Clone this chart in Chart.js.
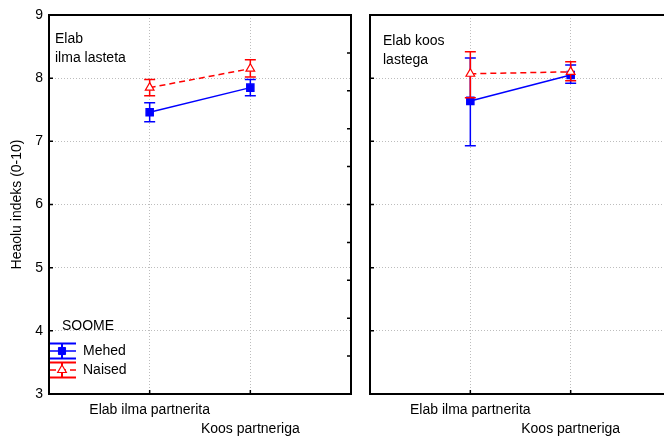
<!DOCTYPE html>
<html>
<head>
<meta charset="utf-8">
<script src="https://cdn.jsdelivr.net/npm/chart.js@4/dist/chart.umd.min.js"></script>
<style>
  html, body { margin: 0; padding: 0; background: #fff; overflow: hidden; }
  #wrap { position: relative; width: 664px; height: 437px; overflow: hidden; }
  canvas { position: absolute; top: 0; }
</style>
</head>
<body>
<div id="wrap">
  <canvas id="leftPanel" width="360" height="437" style="left:0"></canvas>
  <canvas id="rightPanel" width="320" height="437" style="left:360px"></canvas>
</div>
<script>
const categories = ['Elab ilma partnerita', 'Koos partneriga'];
const seriesNames = ['Mehed', 'Naised'];
const legendTitle = 'SOOME';
const yTitle = 'Heaolu indeks (0-10)';
const panelTitles = [['Elab', 'ilma lasteta'], ['Elab koos', 'lastega']];

// Elab ilma lasteta
const mehedLasteta = [7.46, 7.85];
const mehedLastetaLow = [7.31, 7.72];
const mehedLastetaHigh = [7.61, 7.98];
const naisedLasteta = [7.85, 8.15];
const naisedLastetaLow = [7.72, 8.02];
const naisedLastetaHigh = [7.98, 8.29];

// Elab koos lastega
const mehedLastega = [7.64, 8.05];
const mehedLastegaLow = [6.93, 7.92];
const mehedLastegaHigh = [8.32, 8.21];
const naisedLastega = [8.07, 8.10];
const naisedLastegaLow = [7.69, 7.96];
const naisedLastegaHigh = [8.42, 8.26];

const yMin = 3, yMax = 9;
const BLUE = '#0000ff', RED = '#ff0000';
const FONT = '"Liberation Sans", Arial, sans-serif';

Chart.defaults.font.family = FONT;
Chart.defaults.color = '#000';

function pts(values) {
  return values.map((v, i) => ({ x: i + 1, y: v }));
}

function makeDatasets(mehed, mLow, mHigh, naised, nLow, nHigh) {
  return [
    {
      label: seriesNames[0],
      data: pts(mehed),
      low: mLow,
      high: mHigh,
      borderColor: BLUE,
      backgroundColor: BLUE,
      borderWidth: 1.5,
      pointStyle: 'rect',
      pointRadius: 5,
      pointBackgroundColor: BLUE,
      pointBorderColor: BLUE,
      order: 1
    },
    {
      label: seriesNames[1],
      data: pts(naised),
      low: nLow,
      high: nHigh,
      borderColor: RED,
      backgroundColor: '#fff',
      borderWidth: 1.5,
      borderDash: [6, 4],
      pointStyle: 'triangle',
      pointRadius: 5,
      pointBackgroundColor: '#fff',
      pointBorderColor: RED,
      pointBorderWidth: 1.2,
      order: 0
    }
  ];
}

const errorBars = {
  id: 'errorBars',
  beforeDatasetDraw(chart, args) {
    const ds = chart.data.datasets[args.index];
    const x = chart.scales.x, y = chart.scales.y;
    const c = chart.ctx;
    c.save();
    c.strokeStyle = ds.borderColor;
    c.lineWidth = 1.5;
    ds.data.forEach((p, i) => {
      const px = x.getPixelForValue(p.x);
      const top = y.getPixelForValue(ds.high[i]);
      const bot = y.getPixelForValue(ds.low[i]);
      c.beginPath();
      c.moveTo(px, top); c.lineTo(px, bot);
      c.moveTo(px - 5.5, top); c.lineTo(px + 5.5, top);
      c.moveTo(px - 5.5, bot); c.lineTo(px + 5.5, bot);
      c.stroke();
    });
    c.restore();
  }
};

const frame = {
  id: 'frame',
  beforeDatasetsDraw(chart, args, opts) {
    const a = chart.chartArea;
    const c = chart.ctx;
    const y = chart.scales.y, x = chart.scales.x;
    c.save();
    c.strokeStyle = '#000';
    c.lineWidth = 2;
    c.strokeRect(a.left, a.top, a.right - a.left, a.bottom - a.top);
    c.lineWidth = 1.5;
    c.beginPath();
    for (let v = yMin; v <= yMax; v++) {
      const py = y.getPixelForValue(v);
      c.moveTo(a.left, py); c.lineTo(a.left + 4, py);
    }
    if (opts.rightTicks) {
      for (let k = 1; k < 10; k++) {
        const py = y.getPixelForValue(yMin + (yMax - yMin) * k / 10);
        c.moveTo(a.right, py); c.lineTo(a.right - 4, py);
      }
    }
    categories.forEach((_, i) => {
      const px = x.getPixelForValue(i + 1);
      c.moveTo(px, a.bottom); c.lineTo(px, a.bottom - 4);
    });
    c.stroke();

    // panel title
    c.font = '14px ' + FONT;
    c.fillStyle = '#000';
    c.textBaseline = 'middle';
    c.textAlign = 'left';
    opts.title.forEach((line, i) => {
      c.fillText(line, a.left + opts.titleDx, a.top + opts.titleDy + i * 19);
    });

    // legend
    if (opts.legend) {
      c.fillText(legendTitle, a.left + 13, 326);
      chart.data.datasets.forEach((ds, i) => {
        const cy = 351 + i * 19;
        const x0 = a.left + 1, x1 = a.left + 27, cx = a.left + 13;
        c.strokeStyle = ds.borderColor;
        c.lineWidth = 2;
        c.beginPath();
        c.moveTo(x0, cy - 7.5); c.lineTo(x1, cy - 7.5);
        c.moveTo(x0, cy + 7.5); c.lineTo(x1, cy + 7.5);
        c.moveTo(cx, cy - 7.5); c.lineTo(cx, cy + 7.5);
        c.stroke();
        c.lineWidth = 1.5;
        c.setLineDash(ds.borderDash || []);
        c.beginPath();
        c.moveTo(x0, cy); c.lineTo(x1, cy);
        c.stroke();
        c.setLineDash([]);
        c.fillStyle = ds.pointBackgroundColor;
        c.strokeStyle = ds.pointBorderColor;
        c.lineWidth = ds.pointBorderWidth || 1;
        Chart.helpers.drawPoint(c, { pointStyle: ds.pointStyle, radius: ds.pointRadius, rotation: 0, borderWidth: c.lineWidth }, cx, cy);
        c.fillStyle = '#000';
        c.fillText(ds.label, a.left + 34, cy);
      });
    }
    c.restore();
  }
};

function makeChart(id, datasets, opts) {
  return new Chart(document.getElementById(id), {
    type: 'line',
    data: { datasets: datasets },
    options: {
      responsive: false,
      animation: false,
      devicePixelRatio: 1,
      layout: { padding: { top: 15, right: 9, left: 0, bottom: 0 } },
      plugins: {
        legend: { display: false },
        tooltip: { enabled: false },
        frame: opts
      },
      scales: {
        x: {
          type: 'linear',
          min: 0,
          max: categories.length + 1,
          afterBuildTicks: s => { s.ticks = categories.map((_, i) => ({ value: i + 1 })); },
          afterFit: s => { s.height = 43; },
          ticks: {
            autoSkip: false,
            maxRotation: 0,
            padding: 7,
            font: { size: 14, lineHeight: 1.36 },
            callback: v => (v === 1 ? [categories[0], ''] : ['', categories[v - 1]])
          },
          grid: { color: '#bdbdbd', drawTicks: false, lineWidth: 1 },
          border: { display: false, dash: [1, 2] }
        },
        y: {
          min: yMin,
          max: yMax,
          afterFit: s => { s.width = opts.yWidth; },
          ticks: { stepSize: 1, padding: 6, display: opts.yLabels, font: { size: 14 } },
          title: {
            display: opts.yLabels,
            text: yTitle,
            font: { size: 14 },
            padding: { top: 9, bottom: 0 }
          },
          grid: { color: '#bdbdbd', drawTicks: false, lineWidth: 1 },
          border: { display: false, dash: [1, 2] }
        }
      }
    },
    plugins: [errorBars, frame]
  });
}

const leftChart = makeChart('leftPanel',
  makeDatasets(mehedLasteta, mehedLastetaLow, mehedLastetaHigh, naisedLasteta, naisedLastetaLow, naisedLastetaHigh),
  { yWidth: 49, yLabels: true, rightTicks: true, legend: true, title: panelTitles[0], titleDx: 6, titleDy: 24 });

const rightChart = makeChart('rightPanel',
  makeDatasets(mehedLastega, mehedLastegaLow, mehedLastegaHigh, naisedLastega, naisedLastegaLow, naisedLastegaHigh),
  { yWidth: 10, yLabels: false, rightTicks: false, legend: false, title: panelTitles[1], titleDx: 13, titleDy: 26 });
</script>
</body>
</html>
